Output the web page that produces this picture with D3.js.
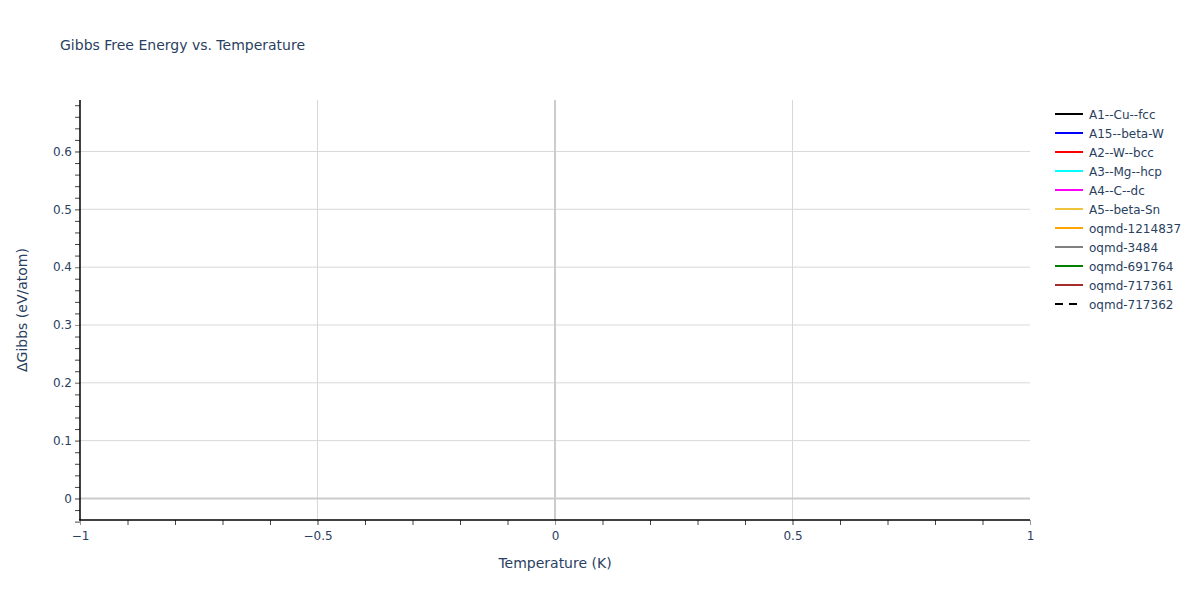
<!DOCTYPE html>
<html lang="en">
<head>
  <meta charset="UTF-8">
  <title>Gibbs Free Energy vs. Temperature</title>
  <script src="https://d3js.org/d3.v7.min.js"></script>
  <style>
    body { margin: 0; background: #fff; }
    text { font-family: "DejaVu Sans", Verdana, sans-serif; fill: #2a3f5f; }
  </style>
</head>
<body>
  <script>
    // series shown in the legend (no points plotted)
    const seriesNames = ["A1--Cu--fcc", "A15--beta-W", "A2--W--bcc", "A3--Mg--hcp", "A4--C--dc",
      "A5--beta-Sn", "oqmd-1214837", "oqmd-3484", "oqmd-691764", "oqmd-717361", "oqmd-717362"];
    const seriesColors = ["#000000", "#0000ff", "#ff0000", "#00ffff", "#ff00ff",
      "#f0c33c", "#ffa500", "#808080", "#008000", "#a52a2a", "#000000"];
    const seriesDashed = [false, false, false, false, false, false, false, false, false, false, true];

    const xDomain = [-1, 1];
    const yDomain = [-0.0372, 0.689];
    const xTicks = [-1, -0.5, 0, 0.5, 1];
    const yTicks = [0, 0.1, 0.2, 0.3, 0.4, 0.5, 0.6];

    const W = 1200, H = 600;
    const m = { left: 80, right: 170, top: 100, bottom: 80 };
    const fontFam = "'DejaVu Sans', Verdana, sans-serif";

    const svg = d3.select("body").append("svg")
      .attr("width", W)
      .attr("height", H);

    const x = d3.scaleLinear().domain(xDomain).range([m.left, W - m.right]);
    const y = d3.scaleLinear().domain(yDomain).range([H - m.bottom, m.top]);

    // gridlines
    svg.append("g").selectAll("line")
      .data(xTicks.filter(d => d !== 0 && d !== -1 && d !== 1))
      .enter().append("line")
      .attr("x1", d => x(d)).attr("x2", d => x(d))
      .attr("y1", m.top).attr("y2", H - m.bottom)
      .attr("stroke", "#d8d8d8").attr("stroke-width", 1);

    svg.append("g").selectAll("line")
      .data(yTicks.filter(d => d !== 0))
      .enter().append("line")
      .attr("x1", m.left).attr("x2", W - m.right)
      .attr("y1", d => y(d)).attr("y2", d => y(d))
      .attr("stroke", "#d8d8d8").attr("stroke-width", 1);

    // zero lines
    svg.append("line")
      .attr("x1", x(0)).attr("x2", x(0))
      .attr("y1", m.top).attr("y2", H - m.bottom)
      .attr("stroke", "#cccccc").attr("stroke-width", 2);
    svg.append("line")
      .attr("x1", m.left).attr("x2", W - m.right)
      .attr("y1", y(0)).attr("y2", y(0))
      .attr("stroke", "#cccccc").attr("stroke-width", 2);

    // x axis
    const fmt = d => d3.format("")(d).replace("-", "\u2212");
    const xAxis = svg.append("g")
      .attr("transform", `translate(0,${H - m.bottom})`);
    xAxis.call(d3.axisBottom(x).tickValues(d3.range(-10, 11).map(d => d / 10)).tickSize(5).tickFormat(""))
      .call(g => g.select(".domain").remove())
      .call(g => g.selectAll("line").attr("stroke", "#444"));
    xAxis.call(g => g.append("g").call(d3.axisBottom(x).tickValues(xTicks).tickSize(5).tickFormat(fmt))
      .call(g2 => g2.select(".domain").remove())
      .call(g2 => g2.selectAll("line").attr("stroke", "#999"))
      .call(g2 => g2.selectAll("text").attr("font-size", 12).attr("dy", "1em").style("fill", "#2a3f5f")
        .attr("font-family", fontFam)));
    svg.append("line")
      .attr("x1", m.left - 1).attr("x2", W - m.right)
      .attr("y1", H - m.bottom).attr("y2", H - m.bottom)
      .attr("stroke", "#000").attr("stroke-width", 1.5);

    // y axis
    const yAxis = svg.append("g").attr("transform", `translate(${m.left},0)`);
    yAxis.call(d3.axisLeft(y).tickValues(d3.range(-2, 35).map(d => d / 50)).tickSize(5).tickFormat(""))
      .call(g => g.select(".domain").remove())
      .call(g => g.selectAll("line").attr("stroke", "#444"));
    yAxis.call(g => g.append("g").call(d3.axisLeft(y).tickValues(yTicks).tickSize(5).tickFormat(fmt))
      .call(g2 => g2.select(".domain").remove())
      .call(g2 => g2.selectAll("line").attr("stroke", "#999"))
      .call(g2 => g2.selectAll("text").attr("font-size", 12).attr("x", -8).style("fill", "#2a3f5f")
        .attr("font-family", fontFam)));
    svg.append("line")
      .attr("x1", m.left).attr("x2", m.left)
      .attr("y1", m.top).attr("y2", H - m.bottom)
      .attr("stroke", "#000").attr("stroke-width", 1.5);

    // titles
    svg.append("text")
      .attr("x", 60).attr("y", 50)
      .attr("font-size", 14)
      .text("Gibbs Free Energy vs. Temperature");

    svg.append("text")
      .attr("x", (m.left + W - m.right) / 2).attr("y", 568)
      .attr("text-anchor", "middle")
      .attr("font-size", 14)
      .text("Temperature (K)");

    svg.append("text")
      .attr("transform", `translate(27,${(m.top + H - m.bottom) / 2}) rotate(-90)`)
      .attr("text-anchor", "middle")
      .attr("font-size", 14)
      .text("\u0394Gibbs (eV/atom)");

    // legend
    const legend = svg.append("g").attr("transform", "translate(1055,114)");
    const rows = legend.selectAll("g")
      .data(seriesNames)
      .enter().append("g")
      .attr("transform", (d, i) => `translate(0,${i * 19})`);
    rows.append("line")
      .attr("x1", 0).attr("x2", 28)
      .attr("stroke", (d, i) => seriesColors[i])
      .attr("stroke-width", 2)
      .attr("stroke-dasharray", (d, i) => seriesDashed[i] ? "8,6" : null);
    rows.append("text")
      .attr("x", 34).attr("y", 4.5)
      .attr("font-size", 12)
      .text(d => d);
  </script>
</body>
</html>
